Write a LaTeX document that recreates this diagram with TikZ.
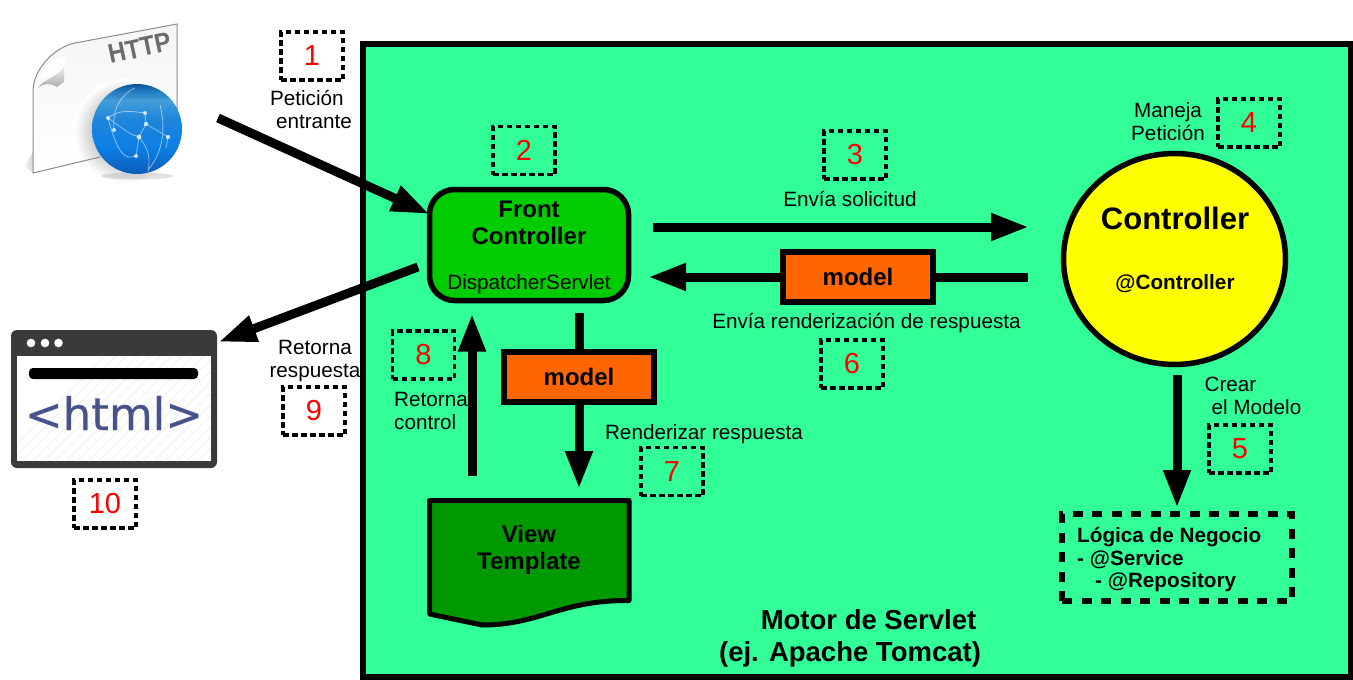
\documentclass[tikz,border=0pt]{standalone}
\usepackage{fontspec}
\setmainfont{Liberation Sans}
\newfontfamily\htmlfont[FakeBold=0.5]{DejaVu Sans}
\usepackage{tikz}
\usetikzlibrary{shapes.geometric, arrows.meta, positioning, calc}

\definecolor{enginegreen}{HTML}{33FF99}
\definecolor{frontgreen}{HTML}{00CC00}
\definecolor{viewgreen}{HTML}{009900}
\definecolor{modelorange}{HTML}{FF6600}
\definecolor{ctrlyellow}{HTML}{FFFF00}
\definecolor{htmlblue}{HTML}{47538A}
\definecolor{windowgray}{HTML}{3A3A3A}
\definecolor{numred}{HTML}{FF0000}
\pgfdeclareverticalshading{globeblue}{100bp}{color(0bp)=(black!70!blue); color(25bp)=(black!70!blue);
    rgb(25bp)=(0.04,0.36,0.72); rgb(40bp)=(0.05,0.50,0.90); rgb(55bp)=(0.12,0.52,0.86); rgb(66bp)=(0.26,0.62,0.85); rgb(72bp)=(0.10,0.45,0.72); rgb(75bp)=(0.05,0.33,0.58); rgb(100bp)=(0.05,0.33,0.58)}

\begin{document}
\begin{tikzpicture}[
        x=1pt, y=-1pt,
        % Estilos
        numbox/.style={rectangle, draw=black, line width=3.7pt, dash pattern=on 5.5pt off 3.5pt, text=numred, minimum width=62pt, minimum height=48pt, inner sep=0pt, outer sep=0pt, font=\fontsize{29}{31}\selectfont},
        modelbox/.style={rectangle, draw=black, line width=6pt, fill=modelorange, minimum width=150pt, minimum height=50pt, inner sep=0pt, outer sep=0pt, font=\fontsize{24}{26}\selectfont\bfseries},
        caption/.style={inner sep=0pt, align=center, font=\fontsize{20.7}{23}\selectfont},
        titletext/.style={inner sep=0pt, align=center, font=\fontsize{24}{27}\selectfont\bfseries},
        arrow/.style={-{Triangle[length=38pt, width=25.5pt]}, line width=9pt, draw=black},
        link/.style={line width=9pt, draw=black}
    ]

    \useasboundingbox (0,0) rectangle (1353,680);

    % Motor de Servlet
    \node (engine) [rectangle, draw=black, line width=6pt, fill=enginegreen, minimum width=987.5pt, minimum height=633pt, inner sep=0pt, outer sep=0pt] at (856.75,360.5) {};
    \node (enginename) [inner sep=0pt, align=center, font=\fontsize{27.5}{32}\selectfont\bfseries] at (850,638.5) {\hspace*{37pt}Motor de Servlet \\ (ej. Apache Tomcat)};

    % Icono HTTP
    \shade [left color=black!5, right color=black!60, opacity=0.7] (24,166) -- (33,173) -- (52,168) -- (33,152) -- cycle;
    \shade [top color=black!4, bottom color=white]
        (33,173) -- (33,90) .. controls (34,68) and (55,47) .. (75,43) -- (177,24) -- (177,130) -- (100,157) -- cycle;
    \shade [inner color=black!55, outer color=white] (126,131) circle [radius=52];
    \draw [black!45, line width=1pt]
        (100,157) -- (33,173) -- (33,90) .. controls (34,68) and (55,47) .. (75,43) -- (177,24) -- (177,110);
    \shade [top color=black!6, bottom color=black!32] (38,88) .. controls (44,78) and (58,78) .. (64,66) -- (64,82) -- (57,87) .. controls (50,83) and (44,83) .. (38,88) -- cycle;
    \fill [white] (40,80) .. controls (44,68) and (54,58) .. (65,56) -- (64,66) .. controls (58,78) and (46,76) .. (40,80) -- cycle;
    \node (httplabel) [rotate=12, inner sep=0pt, text=black!58, font=\fontsize{27}{29}\selectfont\bfseries] at (139.5,48) {\scalebox{0.9}[1]{HTTP}};
    \fill [black!40, opacity=0.3] (137,176) ellipse [x radius=36, y radius=3.5];
    \shade [shading=globeblue] (137,129) circle [radius=45];
    \draw [white, opacity=0.5, line width=0.8pt]
        (108,118) .. controls (125,130) and (130,135) .. (140,137)
        (108,118) .. controls (120,108) and (135,112) .. (145,113)
        (145,113) -- (146,124) -- (139,137) -- (136,156)
        (146,124) -- (168,137) -- (166,148)
        (139,137) .. controls (150,150) and (150,160) .. (148,172)
        (114,130) .. controls (112,110) and (120,95) .. (135,88)
        (160,105) .. controls (165,125) and (165,150) .. (148,170)
        (136,156) .. controls (125,160) and (118,155) .. (108,118);
    \fill [white, opacity=0.75] (108,118) circle [radius=2] (145,113) circle [radius=2] (146,124) circle [radius=2.2] (139,137) circle [radius=2.4] (168,137) circle [radius=2.2] (136,156) circle [radius=2] (114,130) circle [radius=2];

    % Ventana html
    \node (htmlwin) [rectangle, fill=windowgray, rounded corners=6pt, minimum width=206pt, minimum height=138pt, inner sep=0pt, outer sep=0pt] at (114,399) {};
    \fill [white] (17,356) rectangle (211,461);
    \begin{scope}
        \clip (17,356) rectangle (211,461);
        \foreach \d in {0,11,...,320} {
            \draw [black!6, line width=1pt] (\d,461) -- ++(110,-110);
        }
    \end{scope}
    \fill [white] (31,343) circle [radius=4.3] (45,343) circle [radius=4.3] (58.5,343) circle [radius=4.3];
    \fill [black, rounded corners=4pt] (29,368) rectangle (198,379);
    \node (htmltext) [inner sep=0pt, text=htmlblue, font=\fontsize{45}{47}\selectfont\htmlfont] at (114,413) {<html>};

    % Front Controller
    \node (front) [rectangle, draw=black, line width=5.5pt, fill=frontgreen, rounded corners=25pt, minimum width=199pt, minimum height=111pt, inner sep=0pt, outer sep=0pt] at (529,245) {};
    \node (fronttitle) [titletext] at (529,223) {Front \\ Controller};
    \node (frontsub) [caption] at (529,284) {DispatcherServlet};

    % View Template
    \draw [line width=5pt, fill=viewgreen, line join=round] (429.5,500.5) -- (629,500.5) -- (629,600.5)
        .. controls (560,600) and (540,625) .. (482,625) -- (429.5,614) -- cycle;
    \node (view) [minimum width=199pt, minimum height=100pt, inner sep=0pt, outer sep=0pt] at (529,550.5) {};
    \node (viewtitle) [titletext] at (529,550) {View \\ Template};

    % Controller
    \node (ctrl) [ellipse, draw=black, line width=5.5pt, fill=ctrlyellow, minimum width=222pt, minimum height=211pt, inner sep=0pt, outer sep=0pt] at (1174.5,259) {};
    \node (ctrltitle) [inner sep=0pt, font=\fontsize{31}{33}\selectfont\bfseries] at (1175,218.5) {Controller};
    \node (ctrlsub) [inner sep=0pt, font=\fontsize{20.7}{23}\selectfont\bfseries] at (1175,284) {@Controller};

    % Logica de Negocio
    \node (logic) [rectangle, draw=black, line width=6pt, dash pattern=on 10pt off 9.5pt, minimum width=230pt, minimum height=87pt, inner sep=0pt, outer sep=0pt] at (1177,557.5) {};
    \node (logictext) [inner sep=0pt, align=left, font=\fontsize{20.7}{22.5}\selectfont\bfseries, anchor=west] at (1077,560) {Lógica de Negocio \\ - @Service \\ \hspace*{18pt}- @Repository};

    % Cajas model
    \node (modelup) [modelbox] at (858,277) {model};
    \node (modeldown) [modelbox] at (579,376.5) {model};

    % Flechas
    \coordinate (httpout) at (218,118);
    \draw [arrow] (httpout) -- ([yshift=31pt]front.west);
    \draw [arrow, shorten <=12.3pt] ([yshift=-17.6pt]front.west) -- ([xshift=1.5pt, yshift=57pt]htmlwin.east);
    \draw [arrow, shorten <=24pt, shorten >=34.5pt] ([yshift=18pt]front.east) -- ([yshift=32pt]ctrl.west);
    \draw [link, shorten <=35.5pt] ([yshift=-18pt]ctrl.west) -- (modelup.east);
    \draw [arrow, shorten >=19.5pt] (modelup.west) -- ([yshift=-32pt]front.east);
    \draw [link, shorten <=12pt] (front.south -| modeldown.north) -- (modeldown.north);
    \draw [arrow, shorten >=11.5pt] (modeldown.south) -- (modeldown.south |- view.north);
    \draw [arrow, shorten <=24.5pt, shorten >=13pt] ([xshift=-57pt]view.north) -- ([xshift=-57pt]front.south);
    \draw [arrow, shorten <=10.5pt, shorten >=6pt] (logic.north |- ctrl.south) -- (logic.north);

    % Textos
    \node (lblin) [caption, align=left] at (311,109) {Petición \\ \hspace*{6pt}entrante};
    \node (lblsend) [caption] at (850,198.5) {Envía solicitud};
    \node (lblrender) [caption] at (866.5,323.5) {Envía renderización de respuesta};
    \node (lblhandle) [caption] at (1168,122) {Maneja \\ Petición};
    \node (lblcreate) [caption, align=left] at (1253,396) {Crear \\ \hspace*{7pt}el Modelo};
    \node (lblview) [caption] at (704,434.5) {Renderizar respuesta};
    \node (lblback) [caption, align=left] at (431,411) {Retorna \\ control};
    \node (lblresp) [caption] at (315,361) {Retorna \\ respuesta};

    % Numeros
    \node (n1) [numbox] at (312,56) {1};
    \node (n2) [numbox] at (524,150.5) {2};
    \node (n3) [numbox] at (855,155) {3};
    \node (n4) [numbox] at (1249,123) {4};
    \node (n5) [numbox] at (1240,449) {5};
    \node (n6) [numbox] at (852,364) {6};
    \node (n7) [numbox] at (672,471.5) {7};
    \node (n8) [numbox] at (423.5,355) {8};
    \node (n9) [numbox] at (314,411) {9};
    \node (n10) [numbox] at (105,504) {10};

\end{tikzpicture}
\end{document}
